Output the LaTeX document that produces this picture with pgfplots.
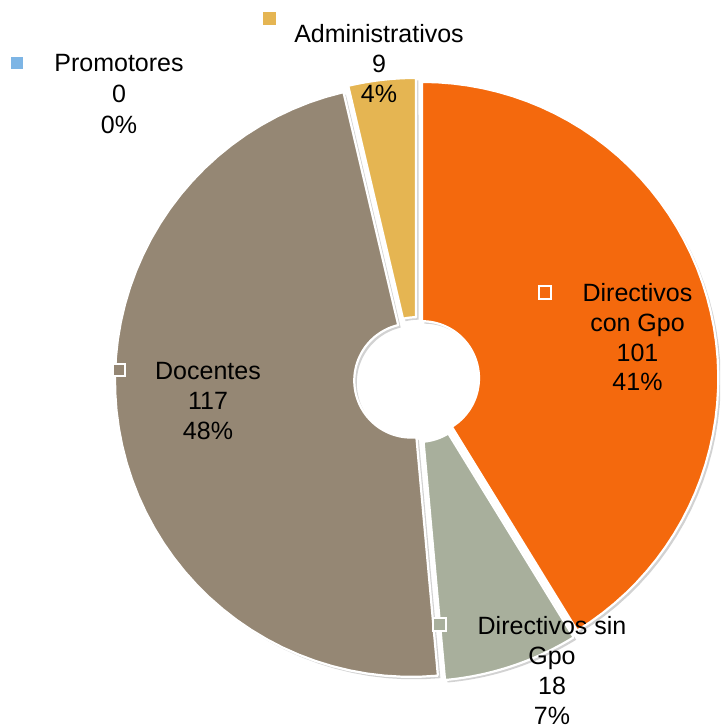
\documentclass[border=0pt]{standalone}
\usepackage{fontspec}
\setmainfont{Liberation Sans}
\usepackage{pgfplots}
\usepackage{pgfplotstable}
\pgfplotsset{compat=1.18}
\definecolor{cDirCon}{HTML}{F4690D}
\definecolor{cDirSin}{HTML}{A8AF9C}
\definecolor{cDoc}{HTML}{958774}
\definecolor{cAdm}{HTML}{E5B552}
\definecolor{cPro}{HTML}{7DB5E5}
\definecolor{cShadow}{HTML}{D2D2D2}

\pgfplotstableread{
label value
DirCon 101
DirSin 18
Docentes 117
Admin 9
Promotores 0
}\piedata

\newcommand{\getval}[2]{\pgfplotstablegetelem{#1}{value}\of\piedata\let#2\pgfplotsretval}
% geometry (pixel units, y up)
\def\cx{416.7}
\def\cy{348.3}
\def\Rout{296.3}
\def\Rin{57}
\def\dd{5.5}

% donut wedge drawn as one parametric path through the axis
\newcommand{\donutwedge}[4]{%
  \addplot[#3, domain=0:4, samples=201, variable=\s]
  ({#4 + \cx + \dd*cos((#1+#2)/2) + rr(\s)*cos(th(\s,#1,#2))},
   {\cy + \dd*sin((#1+#2)/2) + rr(\s)*sin(th(\s,#1,#2)) - #4});
}
\newcommand{\lbl}{\fontsize{25}{30}\selectfont}

\begin{document}
\begin{tikzpicture}
\getval{0}\vA
\getval{1}\vB
\getval{2}\vC
\getval{3}\vD
\getval{4}\vE
\pgfmathsetmacro\total{\vA+\vB+\vC+\vD+\vE}
\pgfmathsetmacro\aA{90}
\pgfmathsetmacro\aB{\aA-360*(\vA/\total)}
\pgfmathsetmacro\aC{\aB-360*(\vB/\total)}
\pgfmathsetmacro\aD{\aC-360*(\vC/\total)}
\pgfmathsetmacro\aE{\aD-360*(\vD/\total)}
\begin{axis}[
  x=1pt, y=1pt,
  xmin=0, xmax=720, ymin=0, ymax=728,
  hide axis,
  clip=true,
  declare function={
    rr(\u)= (\u<=1) ? \Rout : ((\u<=2) ? \Rout-(\Rout-\Rin)*(\u-1) : ((\u<=3) ? \Rin : \Rin+(\Rout-\Rin)*(\u-3)));
    th(\u,\p,\q)= (\u<=1) ? \p+(\q-\p)*\u : ((\u<=2) ? \q : ((\u<=3) ? \q-(\q-\p)*(\u-2) : \p));
  },
]
% shadows
\donutwedge{\aA}{\aB}{fill=cShadow, draw=none}{2.5}
\donutwedge{\aB}{\aC}{fill=cShadow, draw=none}{2.5}
\donutwedge{\aC}{\aD}{fill=cShadow, draw=none}{2.5}
\donutwedge{\aD}{\aE}{fill=cShadow, draw=none}{2.5}
% wedges
\donutwedge{\aA}{\aB}{fill=cDirCon, draw=white, line width=2.2pt, line join=round}{0}
\donutwedge{\aB}{\aC}{fill=cDirSin, draw=white, line width=2.2pt, line join=round}{0}
\donutwedge{\aC}{\aD}{fill=cDoc, draw=white, line width=2.2pt, line join=round}{0}
\donutwedge{\aD}{\aE}{fill=cAdm, draw=white, line width=2.2pt, line join=round}{0}

% label markers
\addplot[only marks, color=cAdm, mark=square*, mark size=6pt] coordinates {(269,710)};
\addplot[only marks, color=cPro, mark=square*, mark size=5.5pt] coordinates {(17,665)};
\addplot[only marks, mark=square*, mark size=6.3pt, mark options={fill=cDirCon, draw=white, line width=2pt}] coordinates {(545,435.5)};
\addplot[only marks, mark=square*, mark size=6pt, mark options={fill=cDoc, draw=white, line width=2pt}] coordinates {(119,357.5)};
\addplot[only marks, mark=square*, mark size=6.3pt, mark options={fill=cDirSin, draw=white, line width=2pt}] coordinates {(439.5,103.5)};

% labels
\begin{scope}[every node/.style={anchor=base, font=\lbl, inner sep=0pt, text=black}]
\node at (axis cs:637.5,426) {Directivos};
\node at (axis cs:637.5,396) {con Gpo};
\node at (axis cs:637.5,366) {101};
\node at (axis cs:637.5,337) {41\%};
\node at (axis cs:208,348) {Docentes};
\node at (axis cs:208,318) {117};
\node at (axis cs:208,288) {48\%};
\node at (axis cs:552,93) {Directivos sin};
\node at (axis cs:552,63) {Gpo};
\node at (axis cs:552,33) {18};
\node at (axis cs:552,4) {7\%};
\node at (axis cs:379,685) {Administrativos};
\node at (axis cs:379,655) {9};
\node at (axis cs:379,625) {4\%};
\node at (axis cs:119,656) {Promotores};
\node at (axis cs:119,625) {0};
\node at (axis cs:119,594) {0\%};
\end{scope}
\end{axis}
\pgfresetboundingbox
\path[use as bounding box] (current axis.south west) rectangle (current axis.north east);
\end{tikzpicture}
\end{document}
